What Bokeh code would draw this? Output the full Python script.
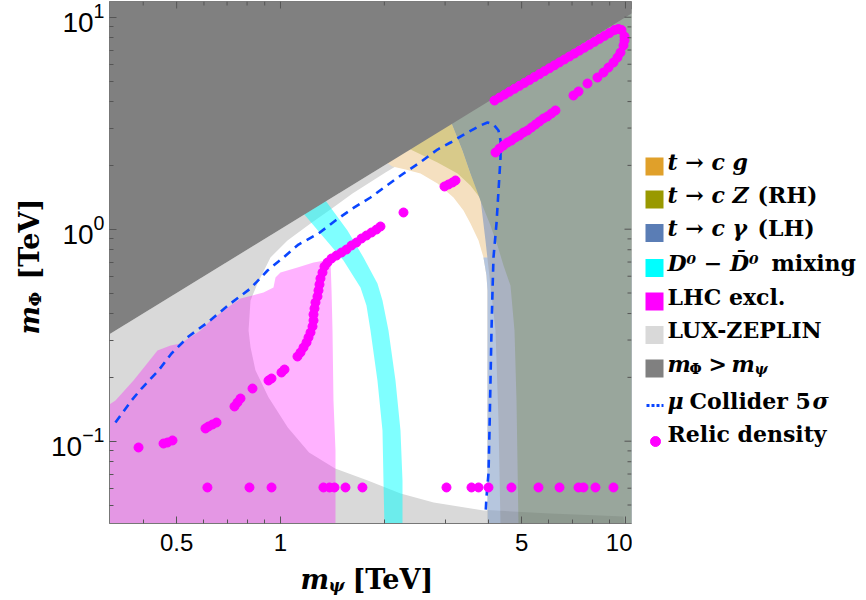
import math
from bokeh.plotting import figure
from bokeh.layouts import row, column
from bokeh.models import Range1d, FixedTicker, LogTickFormatter, CustomJSTickFormatter
from bokeh.embed import file_html
from bokeh.resources import INLINE
from bokeh.core.properties import value

# ---------------- axis extents (TeV) ----------------
X_MIN, X_MAX = 0.3194, 10.41
Y_MIN, Y_MAX = 0.0409, 11.86

x_major_ticks = [0.5, 1, 5, 10]
x_minor_ticks = [0.4, 0.6, 0.7, 0.8, 0.9, 2, 3, 4, 6, 7, 8, 9]
y_major_ticks = [0.1, 1, 10]
y_minor_ticks = [0.05, 0.06, 0.07, 0.08, 0.09, 0.2, 0.3, 0.4, 0.5, 0.6, 0.7, 0.8, 0.9,
                 2, 3, 4, 5, 6, 7, 8, 9]

# ---------------- regions ----------------
# m_Phi = m_psi boundary
diag_m = [0.30, 11.5]

# LUX-ZEPLIN allowed (white) island
lz_allowed_x = [0.8186, 0.8296, 0.8577, 0.9354, 1.0478, 1.2218, 1.3961, 1.617, 2.015, 2.381, 2.909, 3.45,
                11.5, 11.5, 9.95, 9.87, 8.46, 6.06, 3.88, 2.78, 2.23, 1.79, 1.44, 1.21, 1.05, 0.923,
                0.846, 0.819, 0.808]
lz_allowed_y = [0.461, 0.487, 0.554, 0.7355, 0.885, 1.064, 1.238, 1.474, 1.851, 2.179, 2.678, 3.6,
                12.0, 0.040, 0.040, 0.0441, 0.0446, 0.0456, 0.0471, 0.0514, 0.0567, 0.0653, 0.0743,
                0.0885, 0.116, 0.161, 0.216, 0.277, 0.333]

# LHC exclusion
lhc_x = [0.30, 0.30, 0.3323, 0.3748, 0.4062, 0.4399, 0.480, 0.513, 0.5862, 0.6268, 0.7163, 0.7657,
         0.8296, 0.8927, 0.9543, 0.9672, 1.0, 1.12, 1.2465, 1.3961, 1.406, 1.415, 1.4243, 1.4435, 1.4435]
lhc_y = [0.040, 0.1396, 0.1556, 0.1933, 0.2276, 0.268, 0.283, 0.289, 0.333, 0.371, 0.4366, 0.471,
         0.487, 0.5028, 0.531, 0.592, 0.625, 0.66, 0.6966, 0.7197, 0.514, 0.333, 0.1556, 0.0904, 0.040]

# D0 - D0bar mixing band
dmix_x = [1.166, 1.3058, 1.5226, 1.7055, 1.775, 1.8233, 1.910, 1.9753, 1.9885, 2.001,
          2.2576, 2.2576, 2.2275, 2.1544, 2.056, 1.9753, 1.910, 1.74, 1.5637, 1.3503]
dmix_y = [1.186, 0.954, 0.712, 0.531, 0.4366, 0.333, 0.1933, 0.1123, 0.0653, 0.040,
          0.040, 0.0653, 0.1123, 0.1933, 0.333, 0.461, 0.554, 0.7355, 0.986, 1.366]

# t -> c g
tcg_x = [2.0, 2.1115, 2.303, 2.5459, 2.852, 3.1731, 3.392, 3.5532, 3.75, 3.8755, 3.9543, 3.9811, 3.9811, 11.5, 11.5]
tcg_y = [2.1, 1.976, 1.913, 1.831, 1.643, 1.411, 1.225, 1.064, 0.885, 0.7355, 0.605, 0.514, 0.040, 0.040, 12.0]

# t -> c gamma (LH), alone
tcgam_x = [3.8755, 3.9543, 3.9811, 3.9811, 11.5, 11.5]
tcgam_y = [0.7355, 0.605, 0.514, 0.040, 0.040, 0.7355]

# t -> c gamma overlapping t -> c g
tcgam2_x = [3.1107, 3.3698, 3.5532, 3.7987, 3.9279, 4.0617, 4.2, 4.285, 4.3427, 11.5, 11.5]
tcgam2_y = [3.256, 2.351, 1.831, 1.396, 0.885, 0.542, 0.333, 0.125, 0.040, 0.040, 12.0]

# t -> c Z (RH) over t -> c g
tcz_x = [2.3497, 2.852, 3.2594, 3.5532, 3.7987, 3.5532, 3.3698, 3.1107]
tcz_y = [2.403, 2.063, 1.831, 1.607, 1.396, 1.831, 2.351, 3.256]

# all top-decay constraints overlapping
tall_x = [3.1107, 3.3698, 3.5532, 3.7987, 4.0617, 4.256, 4.4306, 4.6416, 4.7674, 4.8316, 4.8965, 11.5, 11.5]
tall_y = [3.256, 2.351, 1.831, 1.366, 1.041, 0.838, 0.674, 0.542, 0.333, 0.1556, 0.040, 0.040, 12.0]

# LZ band underneath the top-decay regions
lzband_x = [3.9811, 6.06, 8.46, 9.87, 9.95, 3.9811]
lzband_y = [0.0473, 0.0456, 0.0446, 0.0441, 0.040, 0.040]

# mu collider 5 sigma reach
mu_x = [0.3323, 0.3700, 0.3955, 0.4430, 0.4832, 0.5412, 0.6144, 0.7163, 0.8186, 0.9169, 1.020, 1.1275,
        1.2886, 1.4435, 1.6170, 1.8233, 2.015, 2.273, 2.512, 2.852, 3.111, 3.483, 3.799, 3.981, 4.144,
        4.285, 4.343, 4.343, 4.285, 4.228, 4.144, 4.117, 4.089, 4.062, 4.035, 4.008, 3.954, 3.928]
mu_y = [0.1225, 0.1556, 0.1772, 0.2156, 0.2593, 0.3118, 0.3630, 0.4462, 0.5253, 0.6385, 0.7355, 0.8466,
        0.9543, 1.099, 1.252, 1.411, 1.590, 1.831, 2.041, 2.376, 2.564, 2.858, 3.084, 3.186, 3.118,
        2.921, 2.620, 2.179, 1.522, 1.064, 0.7355, 0.514, 0.333, 0.1933, 0.1123, 0.0704, 0.0543, 0.0446]

# relic density points
relic_low_x = [0.614, 0.813, 0.942, 1.332, 1.387, 1.434, 1.543, 1.728, 3.028, 3.578, 3.75, 4.008,
               4.672, 5.596, 6.438, 7.309, 7.556, 8.185, 9.23]
relic_low_y = [0.0605, 0.0605, 0.0605, 0.0605, 0.0605, 0.0605, 0.0605, 0.0605, 0.0605, 0.0605,
               0.0605, 0.0605, 0.0605, 0.0605, 0.0605, 0.0605, 0.0605, 0.0605, 0.0605]

relic_a_x = [0.3877, 0.458, 0.4704, 0.4864, 0.6061, 0.6184, 0.6352, 0.6524, 0.7356, 0.7505, 0.7657,
             0.8296, 0.9231, 0.9417, 1.0067, 1.0271]
relic_a_y = [0.0934, 0.0975, 0.0986, 0.1008, 0.1148, 0.1173, 0.1199, 0.1225, 0.1458, 0.1523, 0.159,
             0.1772, 0.1933, 0.1976, 0.2109, 0.2178]

relic_b_x = [1.12, 1.1429, 1.166, 1.1896, 1.2054, 1.2218, 1.2382, 1.2465, 1.2465, 1.2548, 1.263, 1.28,
             1.2886, 1.2973, 1.3058, 1.3235, 1.3413, 1.3685, 1.4057, 1.4532, 1.5025, 1.5534, 1.6062,
             1.6607, 1.7172, 1.7755, 1.8358, 1.8982, 1.9491, 2.2727, 2.9879, 3.0688, 3.1525, 3.2158]
relic_b_y = [0.2509, 0.2621, 0.2767, 0.2921, 0.3084, 0.3256, 0.3476, 0.371, 0.396, 0.4226, 0.4511, 0.4814,
             0.5138, 0.5483, 0.5852, 0.6246, 0.6668, 0.6964, 0.7273, 0.7513, 0.7763, 0.802, 0.8379,
             0.8656, 0.904, 0.9339, 0.9648, 0.9967, 1.0298, 1.1989, 1.5905, 1.6254, 1.6611, 1.6976]

relic_c_x = [4.2, 4.3137, 4.4306, 4.5499, 4.6728, 4.7992, 4.929, 5.0623, 5.1993, 5.3401, 5.4845, 5.6328,
             5.7853, 5.9401, 6.1019, 6.2666, 7.0672, 7.3078, 7.7605, 8.2948, 8.6336, 8.927, 9.23, 9.4802,
             9.672, 9.8675, 9.9335, 9.9335, 9.7366, 9.5441]
relic_c_y = [2.3008, 2.4031, 2.4828, 2.5651, 2.6214, 2.7083, 2.7678, 2.8594, 2.9222, 3.019, 3.119, 3.2222,
             3.329, 3.402, 3.5146, 3.6311, 4.273, 4.4622, 4.867, 5.1948, 5.4847, 5.7903, 6.1134, 6.4543,
             6.8155, 7.3536, 7.765, 8.1095, 8.7025, 8.7975]

relic_d_x = [9.2915, 8.9867, 8.6916, 8.4073, 8.1316, 7.864, 7.606, 7.3564, 7.1146, 6.8812, 6.6548, 6.4367,
             6.2254, 6.0212, 5.824, 5.6328, 5.4482, 5.2693, 5.0962, 4.929, 4.7674, 4.6108, 4.4613, 4.3137, 4.1721]
relic_d_y = [8.6969, 8.4236, 8.1597, 7.903, 7.6556, 7.4149, 7.1824, 6.9566, 6.7386, 6.5262, 6.3217, 6.1234,
             5.9319, 5.7453, 5.5661, 5.3912, 5.2221, 5.058, 4.8997, 4.7462, 4.5975, 4.4528, 4.3131, 4.1775, 4.047]

# legend swatch colours (t->cg, t->cZ, t->c gamma, D mixing, LHC, LZ, m_Phi > m_psi)
legend_colors = ["#e0a02a", "#999900", "#5a7db5", "#00ffff", "#ff00ff", "#d9d9d9", "#808080"]

FONT = "DejaVu Serif"
BLUE = "#0a46ff"
TXT_SHIFT = 9   # compensates the renderer's placement of the alphabetic baseline

# ---------------- main plot ----------------
FW, FH = 522, 522
p = figure(width=586, height=565, x_axis_type="log", y_axis_type="log",
           x_range=Range1d(X_MIN, X_MAX), y_range=Range1d(Y_MIN, Y_MAX),
           min_border_left=63, min_border_right=1, min_border_top=1, min_border_bottom=42,
           toolbar_location=None, output_backend="svg", title=None)
p.grid.visible = False
p.outline_line_color = "#777777"

p.patch([diag_m[0], diag_m[1], diag_m[1], diag_m[0]], [0.040, 0.040, diag_m[1], diag_m[0]],
        fill_color="#d9d9d9", line_color=None)
p.patch(lz_allowed_x, lz_allowed_y, fill_color="white", line_color=None)
p.patch(lhc_x, lhc_y, fill_color="#ff00ff", fill_alpha=0.3, line_color=None)
p.patch(dmix_x, dmix_y, fill_color="#00ffff", fill_alpha=0.5, line_color=None)
p.patch(tcg_x, tcg_y, fill_color="#f5e0c0", line_color=None)
p.patch(tcgam_x, tcgam_y, fill_color="#b6c6de", line_color=None)
p.patch(tcgam2_x, tcgam2_y, fill_color="#aab2c1", line_color=None)
p.patch(tcz_x, tcz_y, fill_color="#d8ca8a", line_color=None)
p.patch(tall_x, tall_y, fill_color="#99a69c", line_color=None)
p.patch(lzband_x, lzband_y, fill_color="black", fill_alpha=0.08, line_color=None)
p.patch([diag_m[0], diag_m[1], diag_m[1], diag_m[0]], [diag_m[0], diag_m[1], 14, 14],
        fill_color="#808080", line_color=None)

p.line(mu_x, mu_y, line_color=BLUE, line_width=2.6, line_dash="8 6")

for rx, ry in [(relic_low_x, relic_low_y), (relic_a_x, relic_a_y), (relic_b_x, relic_b_y),
               (relic_c_x, relic_c_y), (relic_d_x, relic_d_y)]:
    p.scatter(rx, ry, size=9, color="#ff00ff", marker="circle")

# mirrored inward ticks on the top and right frame edges
LX0, LX1 = math.log10(X_MIN), math.log10(X_MAX)
LY0, LY1 = math.log10(Y_MIN), math.log10(Y_MAX)
ppd_x = FW / (LX1 - LX0)
ppd_y = FH / (LY1 - LY0)
for ticks, ln in [(x_major_ticks, 7), (x_minor_ticks, 4)]:
    p.segment(x0=ticks, y0=[Y_MAX] * len(ticks), x1=ticks, y1=[Y_MAX / 10 ** (ln / ppd_y)] * len(ticks),
              line_color="#555555", line_width=1)
for ticks, ln in [(y_major_ticks, 7), (y_minor_ticks, 4)]:
    p.segment(x0=[X_MAX] * len(ticks), y0=ticks, x1=[X_MAX / 10 ** (ln / ppd_x)] * len(ticks), y1=ticks,
              line_color="#555555", line_width=1)

p.xaxis.ticker = FixedTicker(ticks=x_major_ticks, minor_ticks=x_minor_ticks)
p.xaxis.formatter = CustomJSTickFormatter(code="return tick.toString();")
p.yaxis.ticker = FixedTicker(ticks=y_major_ticks, minor_ticks=y_minor_ticks)
p.yaxis.formatter = LogTickFormatter()
for ax in (p.xaxis, p.yaxis):
    ax.axis_line_color = "#777777"
    ax.major_tick_line_color = "#555555"
    ax.minor_tick_line_color = "#555555"
    ax.major_tick_in = 7
    ax.major_tick_out = 0
    ax.minor_tick_in = 4
    ax.minor_tick_out = 0
    ax.major_label_text_font = "Liberation Sans"
    ax.major_label_text_color = "black"
p.xaxis.major_label_text_font_size = "24px"
p.xaxis.major_label_standoff = 10
p.yaxis.major_label_text_font_size = "28px"
p.yaxis.major_label_standoff = 5

# ---------------- y-axis title panel (canvas px: x, -y) ----------------
ytf = figure(width=46, height=565, x_range=Range1d(0, 46), y_range=Range1d(-523, -1),
             x_axis_location=None, y_axis_location=None, toolbar_location=None,
             output_backend="svg", title=None, min_border_left=0, min_border_right=0,
             min_border_top=1, min_border_bottom=42)
ytf.outline_line_color = None
ytf.grid.visible = False

def ytxt(bx, py, t, style, size):
    ytf.text(x=[bx - TXT_SHIFT], y=[-py], text=[t], angle=math.pi / 2, text_font=value(FONT),
             text_font_style=style, text_font_size=size, text_align="left",
             text_baseline="alphabetic", text_color="black")

ytxt(38, 334, "m", "bold italic", "27px")
ytxt(43, 306, "\u03a6", "bold", "17px")
ytxt(38, 279, "[TeV]", "bold", "27px")

# ---------------- x-axis title panel ----------------
xtf = figure(width=586, height=35, x_range=Range1d(109, 631), y_range=Range1d(-600, -565),
             x_axis_location=None, y_axis_location=None, toolbar_location=None,
             output_backend="svg", title=None, min_border_left=63, min_border_right=1,
             min_border_top=0, min_border_bottom=0)
xtf.outline_line_color = None
xtf.grid.visible = False

def xtxt(px, by, t, style, size):
    xtf.text(x=[px], y=[-(by - TXT_SHIFT)], text=[t], text_font=value(FONT), text_font_style=style,
             text_font_size=size, text_align="left", text_baseline="alphabetic", text_color="black")

xtxt(300, 588, "m", "bold italic", "27px")
xtxt(328, 593, "\u03c8", "bold italic", "17px")
xtxt(352, 588, "[TeV]", "bold", "27px")

# ---------------- legend panel ----------------
lg = figure(width=234, height=565, x_range=Range1d(632, 866), y_range=Range1d(-523, -1),
            x_axis_location=None, y_axis_location=None, toolbar_location=None,
            output_backend="svg", title=None, min_border_left=0, min_border_right=0,
            min_border_top=1, min_border_bottom=42)
lg.outline_line_color = None
lg.grid.visible = False

rows_y = [166, 199, 232.5, 267.5, 301, 334.5, 368, 405, 437]
lg.rect(x=[654] * 7, y=[-r for r in rows_y[:7]], width=18, height=18,
        fill_color=legend_colors, line_color=None)
lg.segment(x0=[646], y0=[-rows_y[7]], x1=[663], y1=[-rows_y[7]], line_color=BLUE, line_width=3,
           line_dash="3 2")
lg.scatter(x=[655], y=[-(rows_y[8] + 4)], size=10, color="#ff00ff", marker="circle")

def ltxt(px, by, t, style="bold", size="22px"):
    lg.text(x=[px], y=[-(by - TXT_SHIFT)], text=[t], text_font=value(FONT), text_font_style=style,
            text_font_size=size, text_baseline="alphabetic", text_align="left", text_color="black")

b = [r + 4 for r in rows_y]
b[8] = rows_y[8] + 5
ltxt(667, b[0], "t \u2192 c g", "bold italic")
ltxt(667, b[1], "t \u2192 c Z", "bold italic")
ltxt(757, b[1], "(RH)")
ltxt(667, b[2], "t \u2192 c \u03b3", "bold italic")
ltxt(757, b[2], "(LH)")
ltxt(667, b[3], "D\u2070 \u2212 D\u0304\u2070", "bold italic")
ltxt(771, b[3], "mixing")
ltxt(667, b[4], "LHC excl.")
ltxt(667, b[5], "LUX-ZEPLIN")
ltxt(667, b[6], "m", "bold italic")
ltxt(689, b[6] + 5, "\u03a6", "bold", "14px")
ltxt(708, b[6], ">")
ltxt(731, b[6], "m", "bold italic")
ltxt(754, b[6] + 5, "\u03c8", "bold italic", "14px")
ltxt(667, b[7], "\u03bc", "bold italic")
ltxt(689, b[7], "Collider 5")
ltxt(812, b[7], "\u03c3", "bold italic")
ltxt(667, b[8], "Relic density")

layout = row(ytf, column(p, xtf), lg)
open("out.html", "w").write(file_html(layout, INLINE))
